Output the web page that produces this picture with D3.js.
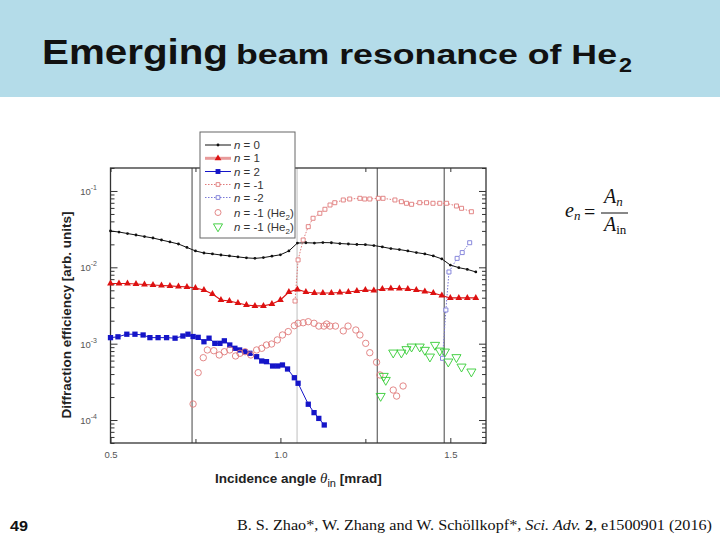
<!DOCTYPE html>
<html><head><meta charset="utf-8">
<script src="https://cdn.jsdelivr.net/npm/d3@7"></script>
<style>body{margin:0;background:#fff}svg{display:block}</style>
</head><body>
<svg id="c" width="720" height="540"></svg>
<script>
// ---------- data ----------
const gridAngle = [0.500,0.525,0.550,0.575,0.600,0.625,0.650,0.675,0.700,0.725,0.750,0.775,0.800,0.825,0.850,0.875,0.900,0.925,0.950,0.975,1.000,1.025,1.050,1.075,1.100,1.125,1.150,1.175,1.200,1.225,1.250,1.275,1.300,1.325,1.350,1.375,1.400,1.425,1.450,1.475,1.500,1.525,1.550,1.575];
const effN0 = [0.0299,0.0290,0.0277,0.0265,0.0253,0.0242,0.0228,0.0215,0.0202,0.0182,0.0164,0.0154,0.0150,0.0145,0.0141,0.0137,0.0133,0.0131,0.0134,0.0140,0.0146,0.0164,0.0208,0.0210,0.0208,0.0211,0.0210,0.0205,0.0202,0.0199,0.0198,0.0193,0.0185,0.0176,0.0171,0.0164,0.0156,0.0150,0.0141,0.0129,0.0107,0.0099,0.0094,0.0087];
const effN1 = [0.00614,0.00614,0.00614,0.00605,0.00596,0.00587,0.00578,0.00570,0.00561,0.00553,0.00536,0.00505,0.00447,0.00373,0.00362,0.00341,0.00321,0.00312,0.00312,0.00331,0.00373,0.00475,0.00513,0.00475,0.00461,0.00461,0.00461,0.00468,0.00475,0.00490,0.00505,0.00497,0.00520,0.00528,0.00528,0.00520,0.00505,0.00483,0.00461,0.00428,0.00397,0.00397,0.00397,0.00397];
const angleN2 = [0.500,0.522,0.548,0.572,0.596,0.616,0.640,0.665,0.690,0.713,0.728,0.743,0.758,0.775,0.790,0.807,0.822,0.835,0.851,0.866,0.880,0.895,0.910,0.930,0.945,0.959,0.977,0.992,1.006,1.021,1.041,1.052,1.082,1.099,1.113,1.129];
const effN2 = [0.00120,0.00123,0.00133,0.00133,0.00130,0.00120,0.00120,0.00120,0.00118,0.00126,0.00133,0.00124,0.00121,0.00106,0.00118,0.00101,0.00101,0.00109,0.000961,0.000870,0.000827,0.000785,0.000748,0.000675,0.000593,0.000581,0.000510,0.000510,0.000526,0.000466,0.000358,0.000303,0.000161,0.000125,0.000105,0.0000861];
const angleNm1 = [1.043,1.052,1.067,1.082,1.096,1.116,1.131,1.146,1.160,1.185,1.204,1.234,1.248,1.263,1.288,1.302,1.337,1.356,1.371,1.386,1.410,1.430,1.449,1.469,1.489,1.518,1.533,1.562];
const effNm1 = [0.00362,0.0125,0.0228,0.0341,0.0439,0.0510,0.0576,0.0655,0.0702,0.0762,0.0785,0.0802,0.0785,0.0785,0.0802,0.0802,0.0762,0.0724,0.0690,0.0669,0.0702,0.0702,0.0690,0.0690,0.0690,0.0636,0.0593,0.0535];
const angleNm2 = [1.477,1.487,1.496,1.520,1.535,1.557];
const effNm2 = [0.000643,0.00276,0.00869,0.0131,0.0156,0.0210];
const angleHe2Circ = [0.743,0.758,0.773,0.785,0.804,0.820,0.835,0.851,0.868,0.881,0.896,0.913,0.930,0.945,0.959,0.974,0.991,1.006,1.023,1.041,1.052,1.067,1.082,1.099,1.113,1.128,1.136,1.146,1.162,1.185,1.199,1.222,1.234,1.251,1.263,1.283,1.293,1.332,1.342,1.361];
const effHe2Circ = [0.000162,0.000417,0.000655,0.000827,0.000809,0.000711,0.000785,0.000827,0.000690,0.000748,0.000785,0.000711,0.000827,0.000870,0.000961,0.000990,0.00112,0.00130,0.00144,0.00172,0.00185,0.00188,0.00194,0.00185,0.00170,0.00170,0.00181,0.00170,0.00170,0.00147,0.00170,0.00151,0.00130,0.00101,0.000762,0.000571,0.000389,0.000247,0.000206,0.000279];
const angleHe2Tri = [1.295,1.304,1.310,1.332,1.356,1.371,1.386,1.410,1.425,1.440,1.455,1.469,1.484,1.494,1.518,1.533,1.562];
const effHe2Tri = [0.000206,0.000377,0.000334,0.000762,0.000762,0.000844,0.000913,0.000913,0.000827,0.000675,0.000961,0.000809,0.000785,0.000581,0.000663,0.000499,0.000430];
const guideAngles = [0.740,1.049,1.285,1.482];
const xTickMajor = [0.5,1.0,1.5];
const xTickMinor = [0.75,1.25];
const xTickLabels = ["0.5","1.0","1.5"];
const yDecades = [1e-4,1e-3,1e-2,1e-1];
const yExpLabels = ["-4","-3","-2","-1"];
const legendLabels = ["= 0","= 1","= 2","= -1","= -2","= -1 (He","= -1 (He"];

// ---------- layout ----------
const svg = d3.select("#c");
const L=110.5, R=486, T=168, B=443;
const x = d3.scaleLinear().domain([0.5,1.605]).range([L,R]);
const y = d3.scaleLog().domain([5e-5,0.2]).range([B,T]);
const fontAx = "Arial, 'Liberation Sans', sans-serif";

// title band
svg.append("rect").attr("x",0).attr("y",0).attr("width",720).attr("height",97).attr("fill","#b4dce9");
const tAttr = s=>s.attr("font-family",fontAx).attr("font-weight","bold").attr("fill","#111").attr("lengthAdjust","spacingAndGlyphs");
svg.append("text").call(tAttr).attr("x",42).attr("y",64).attr("font-size",35).attr("textLength",186).text("Emerging");
svg.append("text").call(tAttr).attr("x",236).attr("y",64).attr("font-size",27).attr("textLength",381).text("beam resonance of He");
svg.append("text").call(tAttr).attr("x",619).attr("y",72).attr("font-size",20).attr("textLength",13).text("2");

// guide lines
svg.append("g").selectAll("line").data(guideAngles).join("line")
  .attr("x1",d=>x(d)).attr("x2",d=>x(d)).attr("y1",T).attr("y2",B)
  .attr("stroke",(d,i)=>i===1?"#c4c4c4":"#555").attr("stroke-width",1.1);

// axes
const gx = svg.append("g").attr("transform",`translate(0,${B})`)
  .call(d3.axisBottom(x).tickValues(xTickMajor).tickSize(-5).tickPadding(8).tickFormat((d,i)=>xTickLabels[i]));
svg.append("g").attr("transform",`translate(0,${B})`)
  .call(d3.axisBottom(x).tickValues(xTickMinor).tickSize(-4).tickFormat(""));
svg.append("g").attr("transform",`translate(0,${T})`)
  .call(d3.axisTop(x).tickValues(xTickMajor.concat(xTickMinor)).tickSize(-4).tickFormat(""));
const minors = [];
yDecades.concat([1e-5]).forEach(dec=>{ for(let k=2;k<=9;k++){ const v=dec*k; if(v>=5e-5 && v<=0.2) minors.push(v);} });
svg.append("g").attr("transform",`translate(${L},0)`)
  .call(d3.axisLeft(y).tickValues(yDecades).tickSize(-7).tickFormat(""));
svg.append("g").attr("transform",`translate(${L},0)`)
  .call(d3.axisLeft(y).tickValues(minors).tickSize(-4).tickFormat(""));
svg.append("g").attr("transform",`translate(${R},0)`)
  .call(d3.axisRight(y).tickValues(yDecades).tickSize(-7).tickFormat(""));
svg.append("g").attr("transform",`translate(${R},0)`)
  .call(d3.axisRight(y).tickValues(minors).tickSize(-4).tickFormat(""));
svg.selectAll(".domain").remove();
svg.selectAll(".tick line").attr("stroke","#333");
gx.selectAll(".tick text").attr("font-size",9.5).attr("fill","#555").attr("font-family",fontAx);

const yl = svg.append("g").selectAll("text").data(yDecades).join("text")
  .attr("x",97).attr("y",d=>y(d)+4).attr("text-anchor","end")
  .attr("font-family",fontAx).attr("font-size",9.5).attr("fill","#555");
yl.append("tspan").text("10");
yl.append("tspan").attr("font-size",7).attr("dy",-5).text((d,i)=>yExpLabels[i]);

// frame
svg.append("rect").attr("x",L).attr("y",T).attr("width",R-L).attr("height",B-T)
  .attr("fill","none").attr("stroke","#333").attr("stroke-width",1.3);

// series
const plot = svg.append("g");
const lineGen = d3.line().x(d=>x(d[0])).y(d=>y(d[1]));
const zip = (a,b)=>a.map((v,i)=>[v,b[i]]);
const s0 = zip(gridAngle,effN0), s1 = zip(gridAngle,effN1), s2 = zip(angleN2,effN2);
const sm1 = zip(angleNm1,effNm1), sm2 = zip(angleNm2,effNm2);
const sc = zip(angleHe2Circ,effHe2Circ), st = zip(angleHe2Tri,effHe2Tri);

const cRed="#dd1111", cBlue="#1515c8", cPink="#e07a7a", cLav="#7a7ad8", cGreen="#33cc33";

plot.append("path").datum(sm1).attr("d",lineGen).attr("fill","none").attr("stroke",cPink).attr("stroke-width",1).attr("stroke-dasharray","1.5,1.5");
plot.append("path").datum(sm2).attr("d",lineGen).attr("fill","none").attr("stroke",cLav).attr("stroke-width",1).attr("stroke-dasharray","1.5,1.5");
plot.append("path").datum(s0).attr("d",lineGen).attr("fill","none").attr("stroke","#111").attr("stroke-width",1);
plot.append("path").datum(s1).attr("d",lineGen).attr("fill","none").attr("stroke",cRed).attr("stroke-width",1.2);
plot.append("path").datum(s2).attr("d",lineGen).attr("fill","none").attr("stroke",cBlue).attr("stroke-width",1);

const sym = (type,size)=>d3.symbol().type(type).size(size)();
plot.append("g").selectAll("path").data(sm1).join("path").attr("d",sym(d3.symbolSquare,16))
  .attr("transform",d=>`translate(${x(d[0])},${y(d[1])})`).attr("fill","#fff").attr("stroke",cPink).attr("stroke-width",0.9);
plot.append("g").selectAll("path").data(sm2).join("path").attr("d",sym(d3.symbolSquare,16))
  .attr("transform",d=>`translate(${x(d[0])},${y(d[1])})`).attr("fill","#fff").attr("stroke",cLav).attr("stroke-width",0.9);
plot.append("g").selectAll("circle").data(s0).join("circle").attr("cx",d=>x(d[0])).attr("cy",d=>y(d[1])).attr("r",1.4).attr("fill","#111");
plot.append("g").selectAll("path").data(s1).join("path").attr("d",sym(d3.symbolTriangle,20))
  .attr("transform",d=>`translate(${x(d[0])},${y(d[1])})`).attr("fill",cRed);
plot.append("g").selectAll("path").data(s2).join("path").attr("d",sym(d3.symbolSquare,28))
  .attr("transform",d=>`translate(${x(d[0])},${y(d[1])})`).attr("fill",cBlue);
plot.append("g").selectAll("circle").data(sc).join("circle").attr("cx",d=>x(d[0])).attr("cy",d=>y(d[1])).attr("r",3.2)
  .attr("fill","none").attr("stroke",cPink).attr("stroke-width",0.9);
plot.append("g").selectAll("path").data(st).join("path").attr("d",sym(d3.symbolTriangle,36))
  .attr("transform",d=>`translate(${x(d[0])},${y(d[1])}) rotate(180)`).attr("fill","none").attr("stroke",cGreen).attr("stroke-width",0.9);

// legend
const lg = svg.append("g");
lg.append("rect").attr("x",200).attr("y",132).attr("width",95).attr("height",106).attr("fill","#fff").attr("stroke","#666").attr("stroke-width",1);
const ly = [145,158.3,171.5,184.5,197.5,212.5,226.5];
const lx1=205, lx2=231, lm=(lx1+lx2)/2;
lg.append("line").attr("x1",lx1).attr("x2",lx2).attr("y1",ly[0]).attr("y2",ly[0]).attr("stroke","#111");
lg.append("circle").attr("cx",lm).attr("cy",ly[0]).attr("r",1.4).attr("fill","#111");
lg.append("line").attr("x1",lx1).attr("x2",lx2).attr("y1",ly[1]).attr("y2",ly[1]).attr("stroke","#e89a9a").attr("stroke-width",3);
lg.append("path").attr("d",sym(d3.symbolTriangle,20)).attr("transform",`translate(${lm},${ly[1]})`).attr("fill",cRed);
lg.append("line").attr("x1",lx1).attr("x2",lx2).attr("y1",ly[2]).attr("y2",ly[2]).attr("stroke",cBlue);
lg.append("path").attr("d",sym(d3.symbolSquare,24)).attr("transform",`translate(${lm},${ly[2]})`).attr("fill",cBlue);
lg.append("line").attr("x1",lx1).attr("x2",lx2).attr("y1",ly[3]).attr("y2",ly[3]).attr("stroke",cPink).attr("stroke-dasharray","1.5,1.5");
lg.append("path").attr("d",sym(d3.symbolSquare,14)).attr("transform",`translate(${lm},${ly[3]})`).attr("fill","#fff").attr("stroke",cPink).attr("stroke-width",0.9);
lg.append("line").attr("x1",lx1).attr("x2",lx2).attr("y1",ly[4]).attr("y2",ly[4]).attr("stroke",cLav).attr("stroke-dasharray","1.5,1.5");
lg.append("path").attr("d",sym(d3.symbolSquare,14)).attr("transform",`translate(${lm},${ly[4]})`).attr("fill","#fff").attr("stroke",cLav).attr("stroke-width",0.9);
lg.append("circle").attr("cx",lm).attr("cy",ly[5]).attr("r",3).attr("fill","none").attr("stroke",cPink).attr("stroke-width",0.9);
lg.append("path").attr("d",sym(d3.symbolTriangle,36)).attr("transform",`translate(${lm},${ly[6]}) rotate(180)`).attr("fill","none").attr("stroke",cGreen).attr("stroke-width",0.9);
const lt = lg.selectAll("text").data(legendLabels).join("text")
  .attr("x",234).attr("y",(d,i)=>ly[i]+4).attr("font-family",fontAx).attr("font-size",11.5).attr("fill","#333");
lt.append("tspan").attr("font-style","italic").text("n");
lt.append("tspan").text(d=>" "+d);
lt.filter((d,i)=>i>=5).append("tspan").attr("font-size",8).attr("dy",3).text("2");
lt.filter((d,i)=>i>=5).append("tspan").attr("dy",-3).text(")");

// axis titles
svg.append("text").attr("transform","translate(71,315) rotate(-90)").attr("text-anchor","middle")
  .attr("font-family",fontAx).attr("font-weight","bold").attr("font-size",13.5).attr("fill","#222")
  .text("Diffraction efficiency [arb. units]");
const xt = svg.append("text").attr("x",215).attr("y",483).attr("font-family",fontAx).attr("font-weight","bold").attr("font-size",13.5).attr("fill","#222");
xt.append("tspan").text("Incidence angle ");
xt.append("tspan").attr("font-style","italic").attr("font-weight","normal").attr("font-family","'Liberation Serif', serif").attr("font-size",15).text("θ");
xt.append("tspan").attr("font-weight","normal").attr("font-size",11).attr("dy",4).text("in");
xt.append("tspan").attr("dy",-4).text(" [mrad]");

// formula
const ff = "'Liberation Serif','Times New Roman',serif";
const f1 = svg.append("text").attr("x",565).attr("y",217).attr("font-family",ff).attr("font-size",20).attr("fill","#111");
f1.append("tspan").attr("font-style","italic").text("e");
f1.append("tspan").attr("font-style","italic").attr("font-size",13).attr("dy",3).text("n");
svg.append("text").attr("x",584).attr("y",219).attr("font-family",ff).attr("font-size",20).attr("fill","#111").text("=");
svg.append("line").attr("x1",601).attr("x2",628).attr("y1",213).attr("y2",213).attr("stroke","#111").attr("stroke-width",1);
const f2 = svg.append("text").attr("x",604).attr("y",203).attr("font-family",ff).attr("font-size",20).attr("fill","#111");
f2.append("tspan").attr("font-style","italic").text("A");
f2.append("tspan").attr("font-style","italic").attr("font-size",13).attr("dy",3).text("n");
const f3 = svg.append("text").attr("x",604).attr("y",231).attr("font-family",ff).attr("font-size",20).attr("fill","#111");
f3.append("tspan").attr("font-style","italic").text("A");
f3.append("tspan").attr("font-size",13).attr("dy",3).text("in");

// footer
svg.append("text").attr("x",10).attr("y",531).attr("font-family",fontAx).attr("font-weight","bold").attr("font-size",15)
  .attr("textLength",18).attr("lengthAdjust","spacingAndGlyphs").attr("fill","#111").text("49");
const ct = svg.append("text").attr("x",237).attr("y",530).attr("font-family",ff).attr("font-size",14.5).attr("fill","#111")
  .attr("textLength",475).attr("lengthAdjust","spacingAndGlyphs");
ct.append("tspan").text("B. S. Zhao*, W. Zhang and W. Schöllkopf*, ");
ct.append("tspan").attr("font-style","italic").text("Sci. Adv.");
ct.append("tspan").text(" ");
ct.append("tspan").attr("font-weight","bold").text("2");
ct.append("tspan").text(", e1500901 (2016)");
</script>
</body></html>
